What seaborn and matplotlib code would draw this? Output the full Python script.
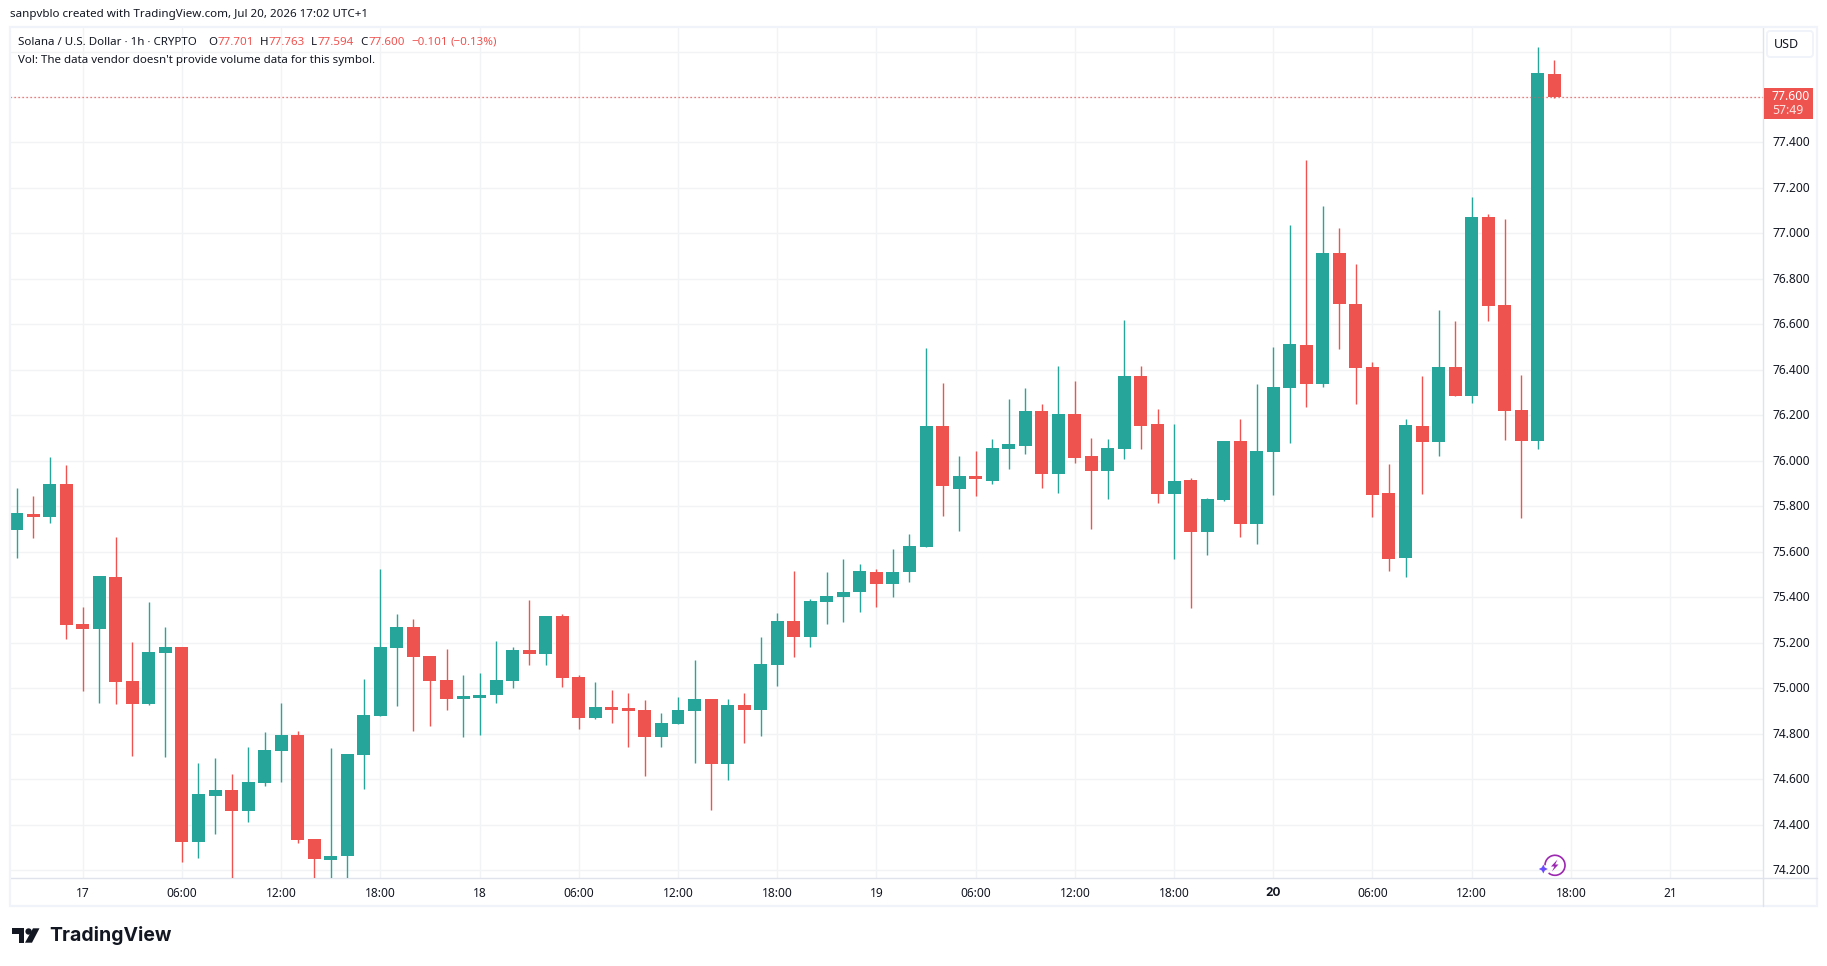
import matplotlib
matplotlib.use("Agg")
import matplotlib.pyplot as plt
from matplotlib.patches import Rectangle, FancyBboxPatch, Arc, Polygon, Circle
from matplotlib.transforms import Affine2D
import numpy as np
import pandas as pd
import seaborn as sns

hours = list(range(-4, 90))
opens = [75.695,75.765,75.752,75.897,75.282,75.260,75.488,75.031,74.930,75.154,75.180,74.323,74.525,74.551,74.459,74.582,74.723,74.793,74.336,74.243,74.261,74.705,74.877,75.176,
         75.270,75.142,75.036,74.953,74.957,74.970,75.032,75.168,75.151,75.318,75.050,74.869,74.918,74.909,74.904,74.786,74.843,74.900,74.953,74.667,74.926,74.904,75.102,75.296,
         75.223,75.381,75.403,75.421,75.513,75.460,75.513,75.623,76.155,75.878,75.931,75.913,76.054,76.067,76.217,75.940,76.208,76.019,75.957,76.054,76.371,76.160,75.856,
         75.914,75.685,75.826,76.086,75.721,76.037,76.319,76.508,76.336,76.913,76.688,76.411,75.857,75.571,76.152,76.081,76.411,76.284,77.071,76.684,76.222,76.086,77.701]
highs = [75.880,75.845,76.016,75.981,75.356,75.493,75.664,75.202,75.378,75.268,75.180,74.670,74.692,74.622,74.740,74.806,74.934,74.811,74.336,74.736,74.710,75.040,75.523,75.325,
         75.305,75.142,75.173,75.058,75.067,75.208,75.182,75.388,75.318,75.327,75.058,75.028,74.992,74.979,74.948,74.891,74.962,75.124,74.953,74.953,74.979,75.226,75.331,75.516,
         75.390,75.513,75.566,75.548,75.522,75.614,75.676,76.494,76.340,76.023,76.041,76.098,76.270,76.318,76.248,76.419,76.353,76.102,76.094,76.620,76.419,76.230,76.160,
         75.923,75.835,76.086,76.182,76.336,76.499,77.036,77.322,77.119,77.023,76.864,76.433,75.984,76.182,76.372,76.662,76.613,77.159,77.084,77.062,76.376,77.819,77.763]
lows = [75.572,75.660,75.726,75.216,74.987,74.934,74.930,74.701,74.925,74.696,74.235,74.252,74.358,74.150,74.411,74.569,74.587,74.318,74.150,74.150,74.150,74.556,74.877,74.921,
        74.812,74.834,74.904,74.786,74.794,74.935,75.001,75.102,75.102,75.006,74.821,74.865,74.847,74.742,74.614,74.742,74.843,74.671,74.465,74.596,74.759,74.790,75.010,75.138,
        75.179,75.280,75.293,75.337,75.355,75.403,75.469,75.623,75.759,75.693,75.843,75.896,75.962,76.028,75.882,75.860,75.992,75.702,75.834,76.006,76.050,75.816,75.570,
        75.351,75.584,75.822,75.663,75.633,75.848,76.077,76.235,76.323,76.490,76.248,75.751,75.514,75.487,75.852,76.020,76.284,76.253,76.613,76.090,75.747,76.050,77.594]
closes = [75.770,75.752,75.897,75.277,75.260,75.493,75.026,74.930,75.158,75.180,74.323,74.534,74.551,74.459,74.587,74.727,74.793,74.331,74.248,74.261,74.710,74.881,75.180,75.268,
          75.138,75.032,74.953,74.962,74.970,75.036,75.168,75.151,75.318,75.045,74.869,74.918,74.904,74.900,74.786,74.847,74.904,74.953,74.667,74.926,74.904,75.107,75.296,75.226,
          75.385,75.407,75.425,75.517,75.456,75.513,75.627,76.155,75.887,75.935,75.918,76.058,76.076,76.217,75.940,76.208,76.014,75.957,76.058,76.371,76.155,75.856,75.913,
          75.685,75.830,76.086,75.721,76.042,76.323,76.512,76.336,76.913,76.688,76.407,75.848,75.567,76.156,76.081,76.411,76.284,77.071,76.679,76.218,76.086,77.705,77.600]

price_ticks = [74.2,74.4,74.6,74.8,75.0,75.2,75.4,75.6,75.8,76.0,76.2,76.4,76.6,76.8,77.0,77.2,77.4]
hidden_grid_prices = [77.6,77.8]
time_ticks = [0,6,12,18,24,30,36,42,48,54,60,66,72,78,84,90,96]
time_labels = ["17","06:00","12:00","18:00","18","06:00","12:00","18:00","19","06:00","12:00","18:00","20","06:00","12:00","18:00","21"]
last_price = 77.600

UP, DOWN = "#26a69a", "#ef5350"
GRID, FRAME, OUTER, INK = "#f2f3f4", "#e0e3eb", "#f0f3fa", "#131722"
W, H = 1827, 966

sns.set_theme(style="white")
plt.rcParams["font.family"] = ["Noto Sans", "DejaVu Sans"]

df = pd.DataFrame({"hour": hours, "open": opens, "high": highs, "low": lows, "close": closes})
df["up"] = df["close"] >= df["open"]
df["body"] = (df["close"] - df["open"]).abs().clip(lower=0.012)
df["base"] = df[["open", "close"]].min(axis=1)

fig = plt.figure(figsize=(W / 100, H / 100), dpi=100, facecolor="white")
ax = fig.add_axes([10 / W, 1 - 878 / H, 1753 / W, 851 / H])

for is_up, colour in [(True, UP), (False, DOWN)]:
    part = df[df["up"] == is_up]
    ax.vlines(part["hour"], part["low"], part["high"], color=colour, lw=1.0, zorder=3)
    sns.barplot(data=part, x="hour", y="body", bottom=part["base"].to_numpy(), native_scale=True,
                color=colour, saturation=1, width=0.786, errorbar=None, linewidth=0, zorder=4, ax=ax)

ax.set_xlim(-4.40, 101.62)
ax.set_ylim(74.165, 77.908)
ax.set_xlabel("")
ax.set_ylabel("")
ax.set_xticks(time_ticks, time_labels)
ax.set_yticks(price_ticks + hidden_grid_prices)
ax.set_yticklabels([f"{p:.3f}" for p in price_ticks] + ["", ""])
ax.yaxis.tick_right()
ax.grid(True, color=GRID, lw=1.0, zorder=0)
ax.set_axisbelow(True)
ax.tick_params(axis="x", length=0, pad=6.5, labelsize=8.6, labelcolor=INK)
ax.tick_params(axis="y", length=0, pad=6.5, labelsize=8.6, labelcolor=INK)
for lab in ax.get_yticklabels():
    lab.set_va("center_baseline")
    lab.set_transform(lab.get_transform() + Affine2D().translate(0, 1))
for lab in ax.get_xticklabels():
    if lab.get_text() == "20":
        lab.set_family("Inter")
        lab.set_fontweight("bold")
for side in ("left", "top"):
    ax.spines[side].set_visible(False)
for side in ("right", "bottom"):
    ax.spines[side].set_color(FRAME)
    ax.spines[side].set_linewidth(1.0)
ax.axhline(last_price, color=DOWN, lw=0.9, ls=(0, (1, 2.2)), zorder=5)

ov = fig.add_axes([0, 0, 1, 1], facecolor="none")
ov.set_xlim(0, W)
ov.set_ylim(H, 0)
ov.axis("off")

ov.add_patch(Rectangle((9.5, 27), 1807.5, 879, fill=False, ec=OUTER, lw=1.6))
ov.plot([1763, 1763], [878, 906], color=FRAME, lw=1.0)
ov.plot([1763, 1817], [878, 878], color=FRAME, lw=1.0)

TS = 8.3
ov.text(9.5, 15, "sanpvblo created with TradingView.com, Jul 20, 2026 17:02 UTC+1", fontsize=8.35, color=INK, va="center")
ov.text(18, 42.5, "Solana / U.S. Dollar · 1h · CRYPTO", fontsize=TS, color=INK, va="center")
for x, s, c in [(208.7, "O", INK), (217.4, "77.701", DOWN), (260, "H", INK), (268.4, "77.763", DOWN),
                (311, "L", INK), (317.8, "77.594", DOWN), (360.5, "C", INK), (368.4, "77.600", DOWN),
                (411, "−0.101", DOWN), (450.6, "(−0.13%)", DOWN)]:
    ov.text(x, 42.5, s, fontsize=TS, color=c, va="center")
ov.text(18, 60.5, "Vol: The data vendor doesn't provide volume data for this symbol.", fontsize=TS, color=INK, va="center")

ov.add_patch(FancyBboxPatch((1767, 31), 46, 26, boxstyle="round,pad=0,rounding_size=3", fc="white", ec=OUTER, lw=1.4))
ov.text(1786.5, 44.5, "USD", fontsize=9, color=INK, ha="center", va="center")
ov.add_patch(Rectangle((1764, 88), 49, 31, fc=DOWN, ec="none"))
ov.text(1772, 97, "77.600", fontsize=8.8, color="white", va="center", fontweight="medium")
ov.text(1772, 111, "57:49", fontsize=8.8, color="#fde3e2", va="center")

# TradingView mark
ov.add_patch(Polygon([(12.3, 928.3), (24.3, 928.3), (24.3, 942.7), (19, 942.7), (19, 934.3), (12.3, 934.3)], fc=INK, ec="none"))
ov.add_patch(Circle((28.6, 931.5), 3.2, fc=INK, ec="none"))
ov.add_patch(Polygon([(33, 928.3), (39.5, 928.3), (32, 942.7), (25, 942.7)], fc=INK, ec="none"))
ov.text(49.5, 935.5, "TradingView", fontsize=14, family="Inter", fontweight="bold", color=INK, va="center")

# Lightning badge
ov.add_patch(Arc((1555, 865.3), 20, 20, theta1=180, theta2=490, color="#9c27b0", lw=1.2))
ov.add_patch(Polygon([(1557.5, 859.5), (1551, 866.5), (1554.4, 866.5), (1552, 871.5), (1558.5, 864.5), (1555.2, 864.5)], fc="#9c27b0", ec="none"))
ov.add_patch(Polygon([(1543.3, 864.5), (1544.8, 867.5), (1547.8, 869), (1544.8, 870.5), (1543.3, 873.5), (1541.8, 870.5), (1538.8, 869), (1541.8, 867.5)], fc="#6a4cff", ec="none"))

fig.savefig("out.png", dpi=100, facecolor="white")
